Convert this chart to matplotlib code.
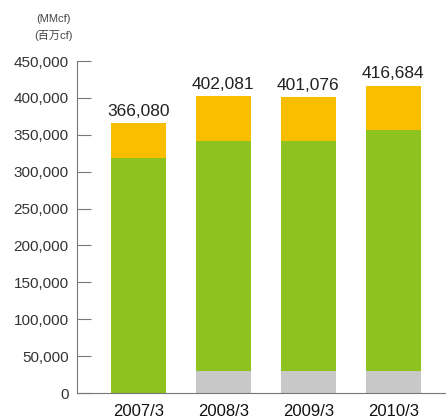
import numpy as np
import matplotlib.pyplot as plt
from matplotlib.ticker import FuncFormatter

plt.rcParams['font.family'] = ['Liberation Sans Narrow', 'Liberation Sans', 'Noto Sans CJK JP', 'DejaVu Sans']

years = ['2007/3', '2008/3', '2009/3', '2010/3']
totals = [366080, 402081, 401076, 416684]
grey_vals = [0, 30000, 30000, 30000]
green_vals = [318000, 312000, 312000, 327000]
yellow_vals = [t - g - gr for t, g, gr in zip(totals, green_vals, grey_vals)]

c_grey = '#c8c8c8'
c_green = '#8dc21f'
c_yellow = '#f9be00'

fig = plt.figure(figsize=(4.46, 4.18), dpi=100)
ax = fig.add_axes([0.1726, 0.0598, 0.8274, 0.7942])

x = np.arange(len(years))
w = 0.65
ax.bar(x, grey_vals, w, color=c_grey)
ax.bar(x, green_vals, w, bottom=grey_vals, color=c_green)
bottom2 = np.array(grey_vals) + np.array(green_vals)
ax.bar(x, yellow_vals, w, bottom=bottom2, color=c_yellow)

for xi, t in zip(x, totals):
    ax.text(xi, t + 6000, f'{t:,}', ha='center', va='bottom', fontsize=12.5, color='#222222')

ax.set_xlim(-0.72, 3.62)
ax.set_ylim(0, 450000)
ax.set_yticks(np.arange(0, 450001, 50000))
ax.yaxis.set_major_formatter(FuncFormatter(lambda v, p: f'{int(v):,}'))
ax.set_xticks(x)
ax.set_xticklabels(years, fontsize=12, color='#111111')
ax.tick_params(axis='x', length=0, pad=8)
ax.tick_params(axis='y', direction='in', length=10, color='#777777', labelsize=11,
               labelcolor='#333333', pad=6)

for s in ['top', 'right']:
    ax.spines[s].set_visible(False)
ax.spines['left'].set_color('#777777')
ax.spines['bottom'].set_color('#777777')

fig.text(0.121, 0.955, '(MMcf)', ha='center', va='center', fontsize=8, color='#444444')
fig.text(0.121, 0.915, '(百万cf)', ha='center', va='center', fontsize=8, color='#444444')

fig.savefig('out.png', dpi=100)
